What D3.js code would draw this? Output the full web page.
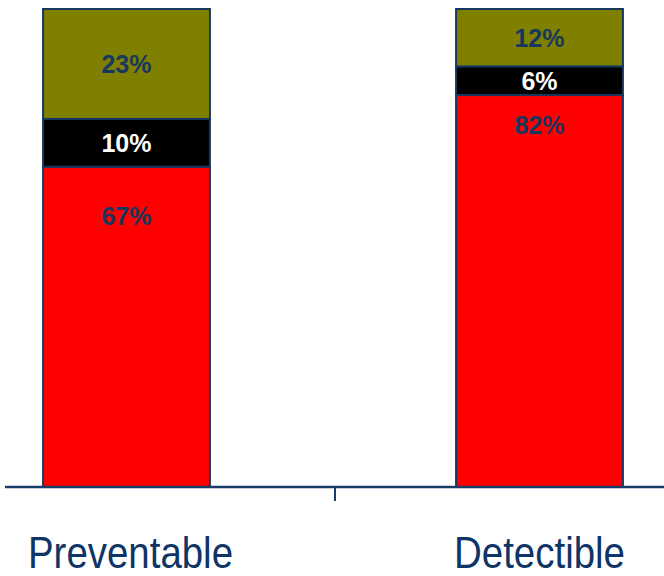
<!DOCTYPE html>
<html>
<head>
<meta charset="utf-8">
<script src="https://cdn.jsdelivr.net/npm/d3@7"></script>
<style>
  html, body { margin: 0; padding: 0; background: #fff; }
  svg { display: block; }
</style>
</head>
<body>
<svg id="chart" width="664" height="576"></svg>
<script>
// ---- data ----
const categories = ["Preventable", "Detectible"];
const seriesNames = ["Red", "Black", "Olive"];       // bottom → top
const redValues   = [67, 82];
const blackValues = [10, 6];
const oliveValues = [23, 12];
const labelSuffix = "%";

// ---- styles / layout (not data) ----
const W = 664, H = 576;
const colors = { Red: "#ff0000", Black: "#000000", Olive: "#808000" };
const labelColors = { Red: "#17375e", Black: "#ffffff", Olive: "#17375e" };
const borderColor = "#17375e";
const axisColor = "#1a3c6a";
const catLabelColor = "#0f3566";
const font = "'Liberation Sans', Arial, Helvetica, sans-serif";
// vertical position of the red labels, as a drop (px) from the segment top
const redLabelDrop = [49, 30];
const catLabelWidths = [205, 171];

const svg = d3.select("#chart");

const rows = categories.map((c, i) => ({
  cat: c, Red: redValues[i], Black: blackValues[i], Olive: oliveValues[i]
}));

const x = d3.scaleBand()
  .domain(categories)
  .range([-80, 746])
  .paddingInner(0.596)
  .paddingOuter(0.298);

const y = d3.scaleLinear().domain([0, 100]).range([487, 9]);

const stacked = d3.stack().keys(seriesNames)(rows);

// bars
const layers = svg.append("g").selectAll("g")
  .data(stacked).join("g")
  .attr("fill", d => colors[d.key]);

layers.selectAll("rect")
  .data(d => d.map(v => Object.assign(v, { key: d.key })))
  .join("rect")
  .attr("x", d => x(d.data.cat))
  .attr("width", x.bandwidth())
  .attr("y", d => y(d[1]))
  .attr("height", d => y(d[0]) - y(d[1]))
  .attr("stroke", borderColor)
  .attr("stroke-width", 2);

// value labels
stacked.forEach(layer => {
  layer.forEach((d, i) => {
    const top = y(d[1]), bot = y(d[0]);
    let cy = (top + bot) / 2;
    if (layer.key === "Red") cy = top + redLabelDrop[i];
    svg.append("text")
      .attr("x", x(d.data.cat) + x.bandwidth() / 2)
      .attr("y", cy)
      .attr("dy", "0.36em")
      .attr("text-anchor", "middle")
      .attr("font-family", font)
      .attr("font-weight", "bold")
      .attr("font-size", 25)
      .attr("fill", labelColors[layer.key])
      .text(d.data[layer.key] + labelSuffix);
  });
});

// x axis line + center tick
svg.append("line")
  .attr("x1", 5).attr("x2", W)
  .attr("y1", y(0)).attr("y2", y(0))
  .attr("stroke", axisColor).attr("stroke-width", 2.5);

const mid = (x(categories[0]) + x.bandwidth() + x(categories[1])) / 2 + 2;
svg.append("line")
  .attr("x1", mid).attr("x2", mid)
  .attr("y1", y(0)).attr("y2", y(0) + 14)
  .attr("stroke", axisColor).attr("stroke-width", 2);

// category labels
categories.forEach((c, i) => {
  svg.append("text")
    .attr("x", x(c) + x.bandwidth() / 2 + (i === 0 ? 4 : 0))
    .attr("y", 568)
    .attr("text-anchor", "middle")
    .attr("font-family", font)
    .attr("font-size", 44)
    .attr("fill", catLabelColor)
    .attr("textLength", catLabelWidths[i])
    .attr("lengthAdjust", "spacingAndGlyphs")
    .text(c);
});
</script>
</body>
</html>
